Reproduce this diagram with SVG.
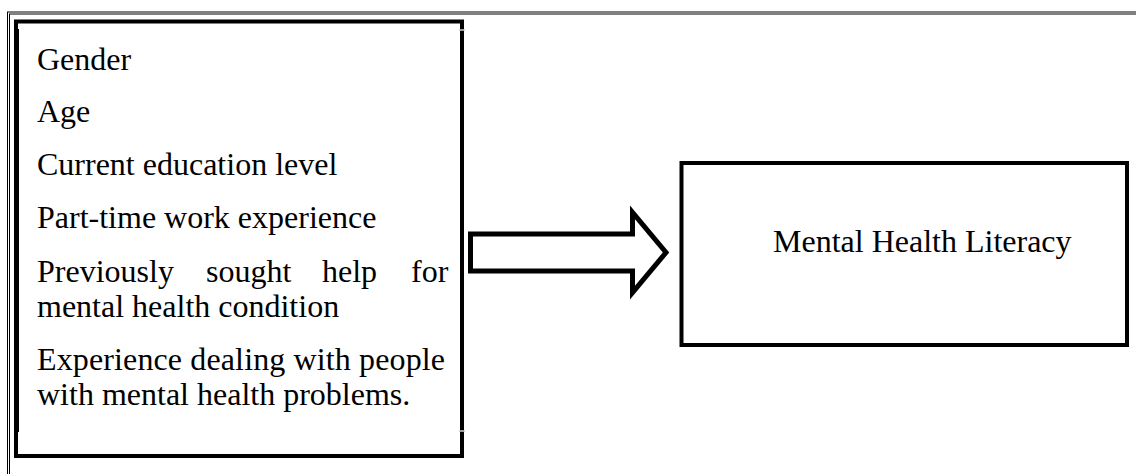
<svg xmlns="http://www.w3.org/2000/svg" width="1136" height="474" viewBox="0 0 1136 474">
<style>
.t{font-family:"Liberation Serif","Times New Roman",serif;font-size:32px;fill:#000}
.frame{stroke:#000;stroke-width:1;fill:none}
.box{fill:#fff;stroke:#000;stroke-width:4}
</style>
<rect width="1136" height="474" fill="#fff"/>
<g id="page-frame">
<line class="frame" x1="7" y1="12" x2="1136" y2="12" stroke-width="1.3"/>
<line class="frame" x1="9" y1="14" x2="1136" y2="14"/>
<line class="frame" x1="7.5" y1="12" x2="7.5" y2="474"/>
<line class="frame" x1="9.5" y1="14" x2="9.5" y2="474"/>
</g>
<g id="factors">
<rect class="box" x="16" y="21.5" width="446" height="434.5"/>
<line x1="18.5" y1="29" x2="18.5" y2="432" stroke="#000" stroke-width="1"/>
<line x1="459" y1="30" x2="465" y2="30" stroke="#ccc" stroke-width="1.5"/>
<line x1="459" y1="431" x2="465" y2="431" stroke="#ccc" stroke-width="1.5"/>
<text class="t" x="37" y="70">Gender</text>
<text class="t" x="37" y="122">Age</text>
<text class="t" x="37" y="175">Current education level</text>
<text class="t" x="37" y="228">Part-time work experience</text>
<text class="t" y="282"><tspan x="37">Previously</tspan><tspan x="206">sought</tspan><tspan x="322">help</tspan><tspan x="411">for</tspan></text>
<text class="t" x="37" y="317">mental health condition</text>
<text class="t" x="37" y="370" textLength="408" lengthAdjust="spacing">Experience dealing with people</text>
<text class="t" x="37" y="405">with mental health problems.</text>
</g>
<g id="connectors">
<path d="M470.5,234 H632.5 V212.5 L666,252.5 L632.5,292.5 V271 H470.5 Z" fill="#fff" stroke="#000" stroke-width="5"/>
</g>
<g id="mhl">
<rect class="box" x="681.5" y="163" width="445.5" height="182"/>
<text class="t" x="773" y="252">Mental Health Literacy</text>
</g>
</svg>
